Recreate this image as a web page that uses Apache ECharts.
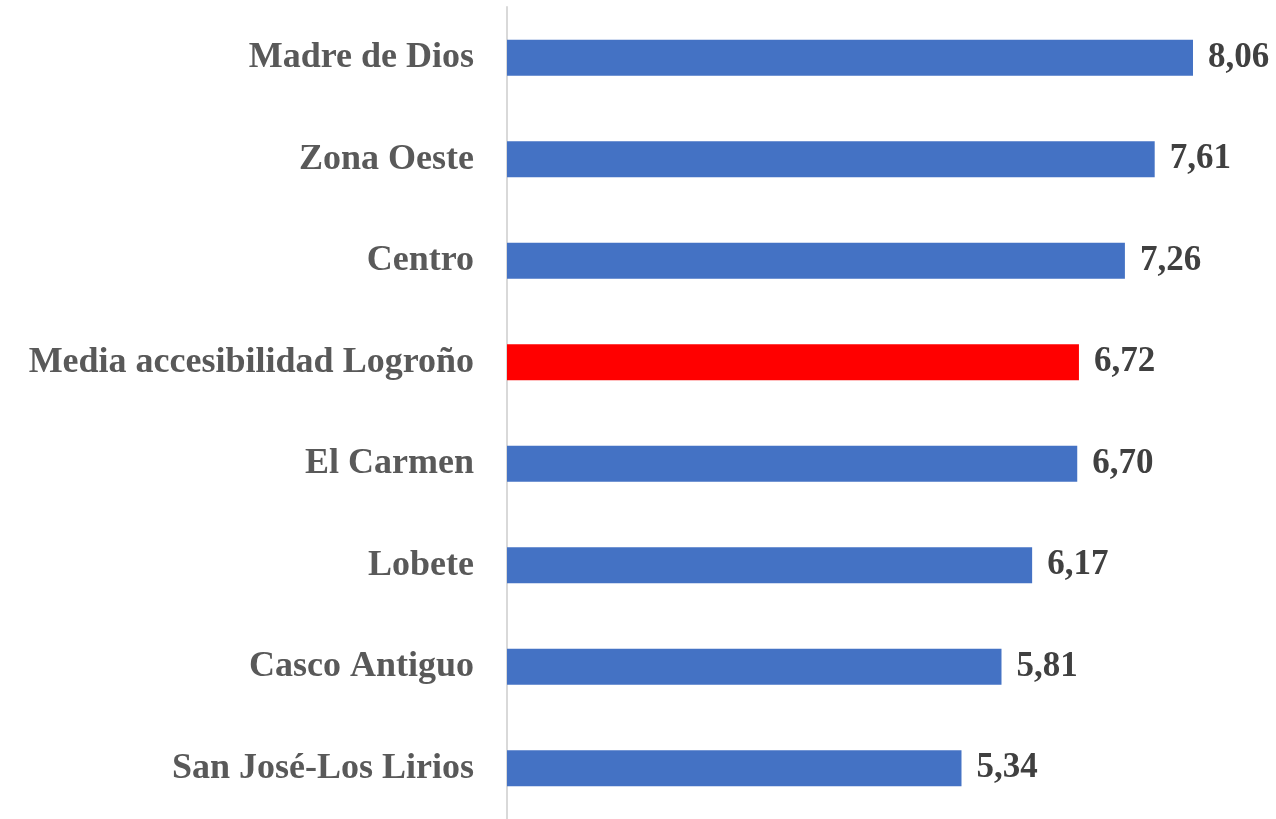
<!DOCTYPE html>
<html><head><meta charset="utf-8">
<script src="https://cdn.jsdelivr.net/npm/echarts@6/dist/echarts.min.js"></script>
<style>html,body{margin:0;padding:0;background:#fff}#c{width:1276px;height:819px}</style>
</head><body><div id="c"></div>
<script>
const categories = ["Madre de Dios","Zona Oeste","Centro","Media accesibilidad Logroño","El Carmen","Lobete","Casco Antiguo","San José-Los Lirios"];
const values = [8.06,7.61,7.26,6.72,6.70,6.17,5.81,5.34];
const highlight = "Media accesibilidad Logroño";

const chart = echarts.init(document.getElementById('c'));
chart.setOption({
  animation:false,
  grid:{left:507,right:3,top:7,height:816,containLabel:false},
  xAxis:{type:'value',min:0,max:9,show:false},
  yAxis:{type:'category',inverse:true,data:categories,
    axisLine:{show:true,lineStyle:{color:'#d9d9d9',width:2}},
    axisTick:{show:false},
    axisLabel:{margin:33,color:'#595959',fontFamily:'Liberation Serif',fontWeight:'bold',fontSize:36}
  },
  series:[{type:'bar',barWidth:36,
    data:values.map((v,i)=>({value:v,itemStyle:{color:categories[i]===highlight?'#ff0000':'#4472c4'}})),
    label:{show:true,position:'right',distance:15,color:'#404040',fontFamily:'Liberation Serif',fontWeight:'bold',fontSize:35,
      formatter:p=>p.value.toFixed(2).replace('.',',')}
  }]
});
</script></body></html>
